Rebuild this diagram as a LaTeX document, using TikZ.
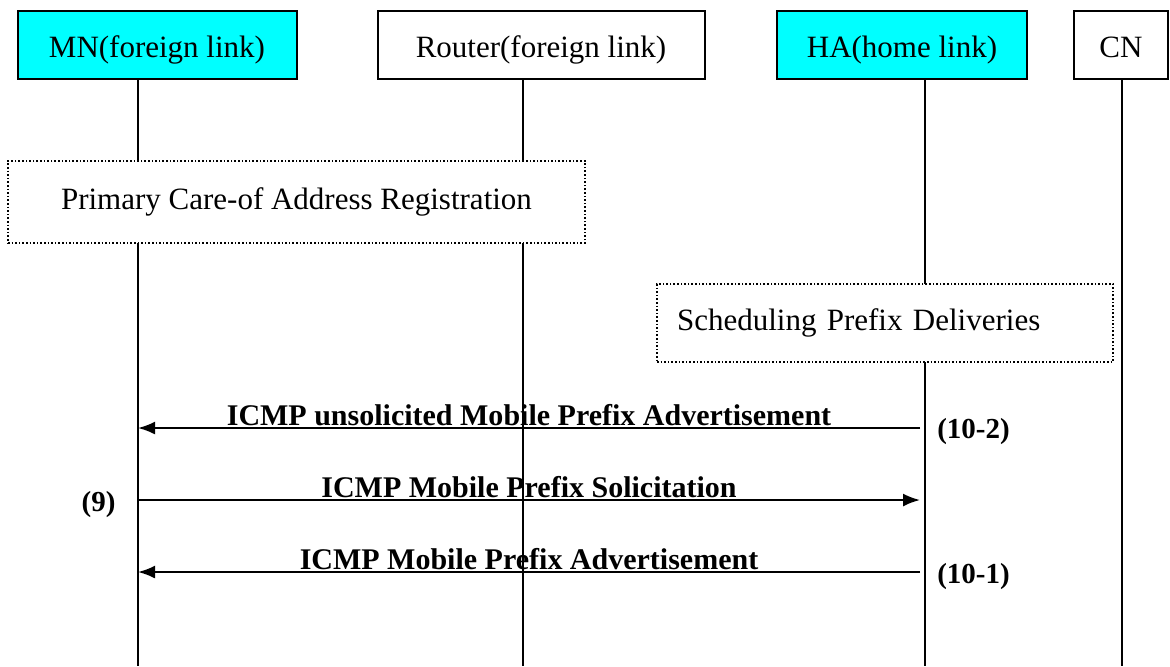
\documentclass[tikz,border=0pt]{standalone}
\usepackage{fontspec}
\setmainfont{Liberation Serif}
\usetikzlibrary{positioning, calc, arrows.meta}
\tikzset{>=latex}
\definecolor{actorcyan}{HTML}{00FFFF}

\begin{document}
\begin{tikzpicture}[x=0.5pt, y=-0.5pt,
  actor/.style={draw, line width=1pt, minimum height=34pt, inner sep=0pt, text height=12.3pt, text depth=0pt, font=\fontsize{15.5}{18}\selectfont},
  phasebox/.style={draw, densely dotted, line width=0.8pt, fill=white, inner sep=0pt, font=\fontsize{15.5}{18}\selectfont},
  lifeline/.style={line width=0.7pt},
  msg/.style={line width=1pt, -{Latex[length=8.5pt, width=6.5pt]}},
  msglabel/.style={anchor=base, inner sep=0pt, yshift=1.5pt, font=\bfseries\fontsize{15}{18}\selectfont},
  numlabel/.style={inner sep=0pt, font=\bfseries\fontsize{14.5}{18}\selectfont}]
  \useasboundingbox (0,0) rectangle (1170,666);

  % Actors
  \node[actor, fill=actorcyan, minimum width=139.5pt] (mn) at (157,45) {MN(foreign link)};
  \node[actor, minimum width=163.5pt] (router) at (541,45) {Router(foreign link)};
  \node[actor, fill=actorcyan, minimum width=125pt] (ha) at (902,45) {HA(home link)};
  \node[actor, minimum width=47pt] (cn) at (1121,45) {CN};

  % Lifelines
  \foreach \name/\x in {mn/138, router/523, ha/925, cn/1122}{
    \coordinate (\name-top) at (\x,79);
    \coordinate (\name-end) at (\x,666);
    \draw[lifeline] (\name-top) -- (\name-end);
  }

  % Phases
  \node[phasebox, minimum width=288.5pt, minimum height=41pt] (coa) at (296.5,202) {Primary Care-of Address Registration};
  \node[phasebox, text width=208pt, align=left, inner xsep=10pt, minimum height=39pt] (sched) at (885,323) {Scheduling Prefix Deliveries};

  % Messages
  \coordinate (ha-m1) at (920,428);
  \coordinate (mn-m1) at (138,428);
  \coordinate (mn-m2) at (138,500);
  \coordinate (ha-m2) at (920,500);
  \coordinate (ha-m3) at (920,572);
  \coordinate (mn-m3) at (138,572);
  \draw[msg] (ha-m1) -- node[msglabel] {ICMP unsolicited Mobile Prefix Advertisement} (mn-m1);
  \draw[msg] (mn-m2) -- node[msglabel] {ICMP Mobile Prefix Solicitation} (ha-m2);
  \draw[msg] (ha-m3) -- node[msglabel] {ICMP Mobile Prefix Advertisement} (mn-m3);

  % Step numbers
  \node[numlabel] (num102) at (973.5,432) {(10-2)};
  \node[numlabel] (num9) at (98.5,505) {(9)};
  \node[numlabel] (num101) at (973.5,577) {(10-1)};
\end{tikzpicture}
\end{document}
